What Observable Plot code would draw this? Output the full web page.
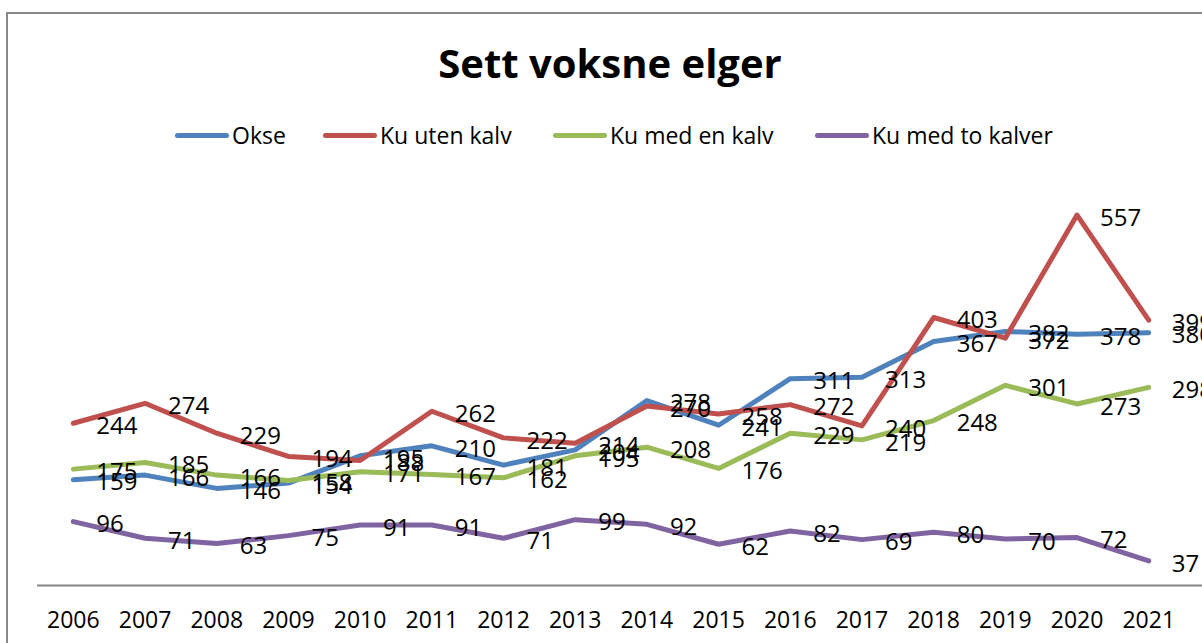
<!DOCTYPE html>
<html><head><meta charset="utf-8">
<script src="https://cdn.jsdelivr.net/npm/d3@7"></script>
<script src="https://cdn.jsdelivr.net/npm/@observablehq/plot@0.6"></script>
<style>
body{margin:0;background:#fff;font-family:"Open Sans",sans-serif;}
#wrap{position:relative;width:1202px;height:643px;overflow:hidden;}
#frame{position:absolute;left:6px;top:12px;width:1300px;height:700px;border-top:2px solid #878787;border-left:2px solid #878787;}
#title{position:absolute;left:0;top:35px;width:1220px;text-align:center;font-weight:bold;font-size:40px;line-height:56px;color:#000;}
.item{position:absolute;top:121px;display:flex;align-items:center;font-size:23px;line-height:28px;white-space:nowrap;color:#000;}
.sw{width:54px;height:5px;border-radius:2.5px;margin-right:3px;}
#chart{position:absolute;left:0;top:160px;}
</style></head><body>
<div id="wrap"><div id="frame"></div><div id="title">Sett voksne elger</div><div id="legend"></div><div id="chart"></div></div>
<script>
const years = [2006,2007,2008,2009,2010,2011,2012,2013,2014,2015,2016,2017,2018,2019,2020,2021];
const seriesNames = ["Okse","Ku uten kalv","Ku med en kalv","Ku med to kalver"];
const seriesColors = ["#4F81BD","#C0504D","#9BBB59","#8064A2"];
const okse = [159,166,146,154,195,210,181,204,278,241,311,313,367,382,378,380];
const kuUtenKalv = [244,274,229,194,188,262,222,214,270,258,272,240,403,372,557,399];
const kuMedEnKalv = [175,185,166,158,171,167,162,195,208,176,229,219,248,301,273,298];
const kuMedToKalver = [96,71,63,75,91,91,71,99,92,62,82,69,80,70,72,37];
const legendX = [175,323,553,815];

const allValues = [okse, kuUtenKalv, kuMedEnKalv, kuMedToKalver];
const rows = [];
allValues.forEach((vals, si) => vals.forEach((v, i) => rows.push({series: seriesNames[si], year: years[i], value: v})));

const legend = document.getElementById("legend");
seriesNames.forEach((n, i) => {
  const it = document.createElement("div");
  it.className = "item";
  it.style.left = legendX[i] + "px";
  it.innerHTML = `<span class="sw" style="background:${seriesColors[i]}"></span><span>${n}</span>`;
  legend.appendChild(it);
});

const chart = Plot.plot({
  width: 1202,
  height: 483,
  marginLeft: 37,
  marginRight: 0,
  marginTop: 26,
  marginBottom: 58,
  style: {fontFamily: "Open Sans", background: "transparent", overflow: "visible"},
  x: {domain: [2005.5, 2021.75], axis: null},
  y: {domain: [0, 600], axis: null},
  color: {domain: seriesNames, range: seriesColors},
  marks: [
    Plot.ruleY([0], {stroke: "#868686", strokeWidth: 2}),
    Plot.line(rows, {x: "year", y: "value", z: "series", stroke: "series", strokeWidth: 5, strokeLinejoin: "round", strokeLinecap: "round"}),
    Plot.text(rows, {x: "year", y: "value", text: d => String(d.value), dx: 23, dy: 3, textAnchor: "start", fontSize: 24, fill: "#000"}),
    Plot.text(years, {x: d => d, y: 0, dy: 35, text: d => String(d), fontSize: 23, fill: "#000"})
  ]
});
document.getElementById("chart").appendChild(chart);
</script>
</body></html>
